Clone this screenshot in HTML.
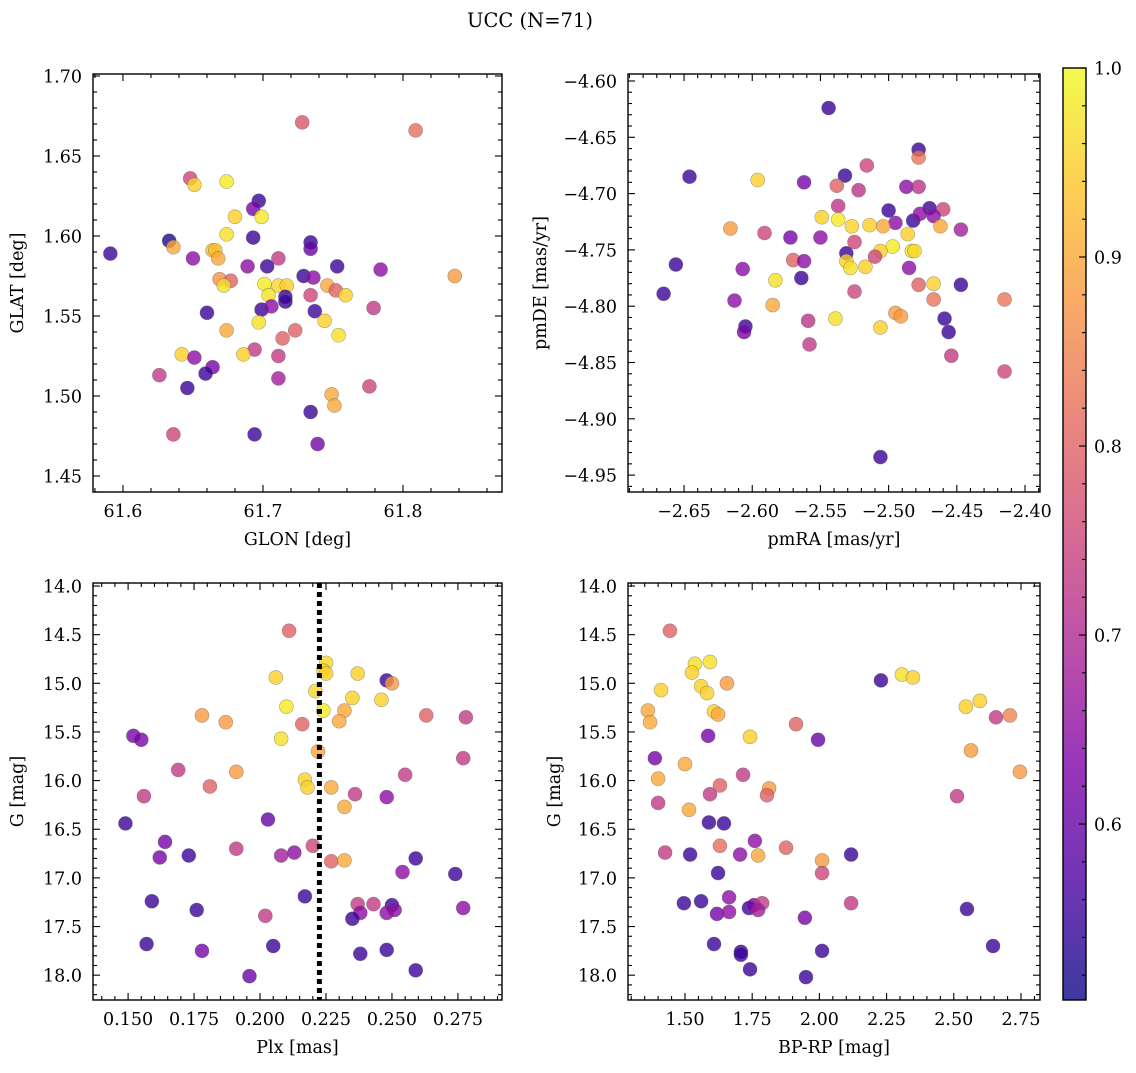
<!DOCTYPE html>
<html><head><meta charset="utf-8"><style>
body{margin:0;background:#fff}
svg text{font-family:"DejaVu Serif","Liberation Serif",serif;fill:#000}
</style></head><body>
<svg id="fig" width="1136" height="1068" viewBox="0 0 1136 1068" xmlns="http://www.w3.org/2000/svg">
<defs>
<linearGradient id="cbg" x1="0" y1="1" x2="0" y2="0">
<stop offset="0" stop-color="#0d0887"/><stop offset="0.125" stop-color="#4c02a1"/><stop offset="0.25" stop-color="#7e03a8"/><stop offset="0.375" stop-color="#a92395"/><stop offset="0.5" stop-color="#cc4778"/><stop offset="0.625" stop-color="#e56b5d"/><stop offset="0.75" stop-color="#f89540"/><stop offset="0.875" stop-color="#fdc527"/><stop offset="1" stop-color="#f0f921"/>
</linearGradient>
</defs>
<text x="530" y="27" font-size="19.5" text-anchor="middle">UCC (N=71)</text>
</svg>
<script>
// ---- Panel 1: GLON vs GLAT ----
const p1Lon=[61.728,61.809,61.648,61.651,61.674,61.697,61.693,61.680,61.699,61.674,61.633,61.636,61.591,61.734,61.734,61.693,61.664,61.666,61.668,61.650,61.703,61.669,61.677,61.711,61.689,61.837,61.753,61.784,61.729,61.701,61.711,61.717,61.736,61.746,61.752,61.759,61.704,61.716,61.716,61.672,61.734,61.699,61.660,61.779,61.706,61.737,61.744,61.697,61.674,61.723,61.714,61.754,61.694,61.686,61.711,61.642,61.651,61.664,61.626,61.659,61.711,61.646,61.776,61.749,61.751,61.734,61.636,61.694,61.739];
const p1Lat=[1.671,1.666,1.636,1.632,1.634,1.622,1.617,1.612,1.612,1.601,1.597,1.593,1.589,1.596,1.592,1.599,1.591,1.591,1.586,1.586,1.581,1.573,1.572,1.586,1.581,1.575,1.581,1.579,1.575,1.570,1.569,1.569,1.574,1.569,1.566,1.563,1.563,1.562,1.559,1.569,1.563,1.554,1.552,1.555,1.556,1.553,1.547,1.546,1.541,1.541,1.536,1.538,1.529,1.526,1.525,1.526,1.524,1.518,1.513,1.514,1.511,1.505,1.506,1.501,1.494,1.490,1.476,1.476,1.470];
const p1Prob=[0.78,0.82,0.75,0.95,0.98,0.55,0.62,0.95,0.98,0.97,0.52,0.90,0.55,0.55,0.60,0.55,0.93,0.93,0.90,0.65,0.55,0.87,0.80,0.73,0.65,0.88,0.55,0.65,0.55,0.98,0.96,0.95,0.65,0.90,0.80,0.95,0.97,0.55,0.55,0.97,0.75,0.55,0.55,0.73,0.65,0.55,0.95,0.97,0.90,0.80,0.80,0.97,0.73,0.95,0.73,0.95,0.65,0.62,0.73,0.55,0.68,0.55,0.75,0.90,0.90,0.55,0.75,0.55,0.62];
// ---- Panel 2: pmRA vs pmDE ----
const p2Ra=[-2.544,-2.478,-2.478,-2.646,-2.532,-2.562,-2.516,-2.538,-2.596,-2.522,-2.487,-2.478,-2.537,-2.500,-2.470,-2.460,-2.495,-2.482,-2.477,-2.467,-2.549,-2.537,-2.527,-2.514,-2.504,-2.462,-2.447,-2.591,-2.550,-2.525,-2.616,-2.572,-2.486,-2.497,-2.483,-2.481,-2.506,-2.531,-2.531,-2.656,-2.570,-2.562,-2.510,-2.583,-2.564,-2.485,-2.528,-2.517,-2.467,-2.447,-2.478,-2.525,-2.607,-2.665,-2.585,-2.613,-2.467,-2.415,-2.495,-2.491,-2.539,-2.559,-2.459,-2.605,-2.606,-2.506,-2.456,-2.558,-2.454,-2.415,-2.506];
const p2De=[-4.624,-4.661,-4.668,-4.685,-4.684,-4.690,-4.675,-4.693,-4.688,-4.697,-4.694,-4.694,-4.711,-4.715,-4.713,-4.714,-4.726,-4.724,-4.718,-4.720,-4.721,-4.723,-4.729,-4.728,-4.729,-4.729,-4.732,-4.735,-4.739,-4.743,-4.731,-4.739,-4.736,-4.747,-4.751,-4.751,-4.751,-4.753,-4.760,-4.763,-4.759,-4.760,-4.756,-4.777,-4.775,-4.766,-4.766,-4.765,-4.780,-4.781,-4.781,-4.787,-4.767,-4.789,-4.799,-4.795,-4.794,-4.794,-4.806,-4.809,-4.811,-4.813,-4.811,-4.818,-4.823,-4.819,-4.823,-4.834,-4.844,-4.858,-4.934];
const p2Prob=[0.55,0.55,0.83,0.55,0.55,0.62,0.75,0.80,0.95,0.72,0.65,0.72,0.72,0.55,0.55,0.75,0.65,0.55,0.65,0.65,0.95,0.98,0.95,0.95,0.90,0.90,0.68,0.75,0.65,0.75,0.88,0.62,0.95,0.98,0.97,0.96,0.95,0.55,0.95,0.55,0.80,0.65,0.75,0.97,0.55,0.65,0.97,0.95,0.95,0.55,0.80,0.75,0.65,0.55,0.90,0.65,0.83,0.83,0.88,0.88,0.97,0.72,0.55,0.55,0.62,0.95,0.55,0.73,0.73,0.75,0.55];
// ---- Panel 3: Plx vs G ----
const p3Plx=[0.211,0.225,0.224,0.206,0.225,0.237,0.248,0.250,0.221,0.235,0.210,0.246,0.178,0.232,0.187,0.224,0.263,0.278,0.216,0.230,0.152,0.155,0.208,0.222,0.277,0.191,0.169,0.255,0.217,0.218,0.181,0.227,0.236,0.156,0.248,0.232,0.149,0.203,0.164,0.191,0.162,0.173,0.208,0.213,0.220,0.227,0.232,0.259,0.254,0.274,0.159,0.217,0.237,0.243,0.238,0.250,0.251,0.248,0.277,0.176,0.235,0.202,0.157,0.205,0.178,0.238,0.248,0.196,0.259];
const p3G=[14.46,14.79,14.87,14.94,14.90,14.90,14.97,15.00,15.08,15.15,15.24,15.17,15.33,15.28,15.40,15.28,15.33,15.35,15.42,15.39,15.54,15.58,15.57,15.70,15.77,15.91,15.89,15.94,15.99,16.07,16.06,16.07,16.14,16.16,16.17,16.27,16.44,16.40,16.63,16.70,16.79,16.77,16.77,16.74,16.67,16.83,16.82,16.80,16.94,16.96,17.24,17.19,17.27,17.27,17.36,17.28,17.33,17.36,17.31,17.33,17.42,17.39,17.68,17.70,17.75,17.78,17.74,18.01,17.95];
const p3Prob=[0.80,0.96,0.96,0.95,0.95,0.95,0.55,0.88,0.96,0.95,0.98,0.95,0.88,0.90,0.88,0.98,0.80,0.73,0.80,0.90,0.62,0.62,0.97,0.90,0.73,0.88,0.73,0.73,0.95,0.95,0.80,0.90,0.73,0.73,0.65,0.90,0.55,0.60,0.62,0.73,0.62,0.55,0.68,0.65,0.75,0.80,0.90,0.55,0.65,0.55,0.55,0.55,0.73,0.73,0.65,0.55,0.65,0.65,0.65,0.55,0.55,0.73,0.55,0.55,0.62,0.55,0.55,0.60,0.55];
const plxLine=0.2225;
// ---- Panel 4: BP-RP vs G ----
const p4Col=[1.444,1.537,1.593,1.526,1.560,1.656,1.362,1.411,2.229,2.307,2.348,2.545,2.597,2.657,2.709,2.746,1.582,1.608,1.623,1.370,2.564,1.913,1.742,1.586,1.995,1.388,1.500,1.400,1.716,1.813,1.593,1.805,1.630,1.515,2.512,1.400,1.589,1.645,1.630,2.118,1.876,1.760,1.705,1.772,1.623,2.010,2.010,1.519,1.426,1.496,1.560,1.664,1.619,1.664,1.738,1.757,1.787,1.772,2.118,2.549,1.946,1.608,1.708,1.708,1.742,1.950,2.010,2.646];
const p4G=[14.46,14.80,14.78,14.89,15.03,15.00,15.28,15.07,14.97,14.91,14.94,15.24,15.18,15.35,15.33,15.91,15.10,15.29,15.32,15.40,15.69,15.42,15.55,15.54,15.58,15.77,15.83,15.98,15.94,16.08,16.14,16.15,16.05,16.30,16.16,16.23,16.43,16.44,16.67,16.76,16.69,16.62,16.76,16.77,16.95,16.82,16.95,16.76,16.74,17.26,17.24,17.20,17.37,17.35,17.31,17.28,17.26,17.33,17.26,17.32,17.41,17.68,17.76,17.79,17.94,18.02,17.75,17.70];
const p4Prob=[0.80,0.97,0.97,0.95,0.95,0.88,0.90,0.95,0.55,0.97,0.95,0.95,0.95,0.73,0.85,0.88,0.95,0.95,0.90,0.90,0.88,0.80,0.95,0.62,0.60,0.62,0.90,0.90,0.73,0.88,0.73,0.80,0.80,0.90,0.73,0.73,0.55,0.55,0.82,0.55,0.80,0.65,0.65,0.90,0.55,0.88,0.75,0.55,0.73,0.55,0.55,0.65,0.62,0.65,0.55,0.62,0.73,0.68,0.73,0.55,0.62,0.55,0.55,0.55,0.55,0.55,0.55,0.55];
// ---- Colorbar ----
const cbTicks=[1.0,0.9,0.8,0.7,0.6];
const cbMin=0.5069, cbMax=1.0;

const NS='http://www.w3.org/2000/svg';
const svg=document.getElementById('fig');
const FS=17.5;
function mk(tag,attrs,parent){const e=document.createElementNS(NS,tag);for(const k in attrs)e.setAttribute(k,attrs[k]);(parent||svg).appendChild(e);return e;}
const stops=[[0,[13,8,135]],[0.125,[76,2,161]],[0.25,[126,3,168]],[0.375,[169,35,149]],[0.5,[204,71,120]],[0.625,[229,107,93]],[0.75,[248,149,64]],[0.875,[253,197,39]],[1,[240,249,33]]];
function plasma(v){let t=(v-cbMin)/(cbMax-cbMin);t=Math.max(0,Math.min(1,t));for(let i=1;i<stops.length;i++){if(t<=stops[i][0]){const a=stops[i-1],b=stops[i];const f=(t-a[0])/(b[0]-a[0]);const c=a[1].map((x,j)=>Math.round(x+(b[1][j]-x)*f));return 'rgb('+c.join(',')+')';}}return 'rgb(240,249,33)';}
function fmt(v,d){const s=v.toFixed(d);return v<0?'\u2212'+s.slice(1):s;}

function panel(o){
  const g=mk('g',{});
  
  
  const X=v=>o.x0+(v-o.xmin)/(o.xmax-o.xmin)*(o.x1-o.x0);
  const Y=v=>o.yinv? o.y0+(v-o.ymin)/(o.ymax-o.ymin)*(o.y1-o.y0) : o.y1-(v-o.ymin)/(o.ymax-o.ymin)*(o.y1-o.y0);
  const pg=mk('g',{},g);
  
  
  for(let i=0;i<o.xs.length;i++){
    const c=mk('circle',{cx:X(o.xs[i]),cy:Y(o.ys[i]),r:7,fill:plasma(o.cs[i]),'fill-opacity':0.8,stroke:'#555','stroke-opacity':0.5,'stroke-width':0.6},pg);
    
    
  }
  if(o.vline!==undefined){
    const l=mk('line',{x1:X(o.vline),x2:X(o.vline),y1:o.y0,y2:o.y1,stroke:'#000','stroke-width':5,'stroke-dasharray':'5,4'},g);
    
    
  }
  const fr=mk('rect',{x:o.x0,y:o.y0,width:o.x1-o.x0,height:o.y1-o.y0,fill:'none',stroke:'#000','stroke-width':1.4},g);
  
  
  const eps=1e-9;
  for(let v=Math.ceil(o.xmin/o.xmn-eps)*o.xmn; v<=o.xmax+eps; v+=o.xmn){
    const px=X(v);const isMaj=Math.abs(v/o.xmj-Math.round(v/o.xmj))<1e-6;const L=isMaj?7:4;
    mk('line',{x1:px,x2:px,y1:o.y1,y2:o.y1-L,stroke:'#000','stroke-width':1.1},g);
    mk('line',{x1:px,x2:px,y1:o.y0,y2:o.y0+L,stroke:'#000','stroke-width':1.1},g);
    if(isMaj){const t=mk('text',{x:px,y:o.y1+25,'font-size':FS,'text-anchor':'middle'},g);t.textContent=fmt(v,o.xd);
      
      }
  }
  for(let v=Math.ceil(o.ymin/o.ymn-eps)*o.ymn; v<=o.ymax+eps; v+=o.ymn){
    const py=Y(v);const isMaj=Math.abs(v/o.ymj-Math.round(v/o.ymj))<1e-6;const L=isMaj?7:4;
    mk('line',{x1:o.x0,x2:o.x0+L,y1:py,y2:py,stroke:'#000','stroke-width':1.1},g);
    mk('line',{x1:o.x1,x2:o.x1-L,y1:py,y2:py,stroke:'#000','stroke-width':1.1},g);
    if(isMaj){const t=mk('text',{x:o.x0-11,y:py+6.5,'font-size':FS,'text-anchor':'end'},g);t.textContent=fmt(v,o.yd);
      
      }
  }
  const xl=mk('text',{x:(o.x0+o.x1)/2,y:o.y1+53,'font-size':FS,'text-anchor':'middle'},g);xl.textContent=o.xlabel;
  
  
  const yx=o.ylx, yy=(o.y0+o.y1)/2;
  const yl=mk('text',{x:yx,y:yy,'font-size':FS,'text-anchor':'middle',transform:'rotate(-90 '+yx+' '+yy+')'},g);yl.textContent=o.ylabel;
  
  
}
panel({name:'glon-glat-panel',x0:93,x1:502,y0:74,y1:492,xmin:61.5786,xmax:61.8707,ymin:1.44,ymax:1.70125,xmj:0.1,xmn:0.02,ymj:0.05,ymn:0.01,xd:1,yd:2,xs:p1Lon,ys:p1Lat,cs:p1Prob,xlabel:'GLON [deg]',ylabel:'GLAT [deg]',ylx:23});
panel({name:'pm-panel',x0:628,x1:1040,y0:74,y1:492,xmin:-2.6911,xmax:-2.389,ymin:-4.965,ymax:-4.5938,xmj:0.05,xmn:0.01,ymj:0.05,ymn:0.01,xd:2,yd:2,xs:p2Ra,ys:p2De,cs:p2Prob,xlabel:'pmRA [mas/yr]',ylabel:'pmDE [mas/yr]',ylx:546});
panel({name:'plx-g-panel',x0:93,x1:502,y0:583,y1:1000,xmin:0.1367,xmax:0.2917,ymin:13.969,ymax:18.255,yinv:true,xmj:0.025,xmn:0.005,ymj:0.5,ymn:0.1,xd:3,yd:1,xs:p3Plx,ys:p3G,cs:p3Prob,xlabel:'Plx [mas]',ylabel:'G [mag]',ylx:23,vline:plxLine});
panel({name:'color-g-panel',x0:628,x1:1040,y0:583,y1:1000,xmin:1.288,xmax:2.8207,ymin:13.969,ymax:18.255,yinv:true,xmj:0.25,xmn:0.05,ymj:0.5,ymn:0.1,xd:2,yd:1,xs:p4Col,ys:p4G,cs:p4Prob,xlabel:'BP-RP [mag]',ylabel:'G [mag]',ylx:560});
(function(){
  const g=mk('g',{});
  
  
  const x0=1063,x1=1086,y0=68,y1=1000;
  const r=mk('rect',{x:x0,y:y0,width:x1-x0,height:y1-y0,fill:'url(#cbg)','fill-opacity':0.8,stroke:'#000','stroke-width':1.4},g);
  
  
  const Y=v=>y1-(v-cbMin)/(cbMax-cbMin)*(y1-y0);
  for(let v=0.52;v<=1.0001;v+=0.02){const py=Y(v);mk('line',{x1:x1,x2:x1-4,y1:py,y2:py,stroke:'#000','stroke-width':1.1},g);}
  cbTicks.forEach(v=>{const py=Y(v);mk('line',{x1:x1,x2:x1-7,y1:py,y2:py,stroke:'#000','stroke-width':1.1},g);
    const t=mk('text',{x:x1+8,y:py+6.5,'font-size':FS},g);t.textContent=v.toFixed(1);
    
    });
})();
</script>
</body></html>
